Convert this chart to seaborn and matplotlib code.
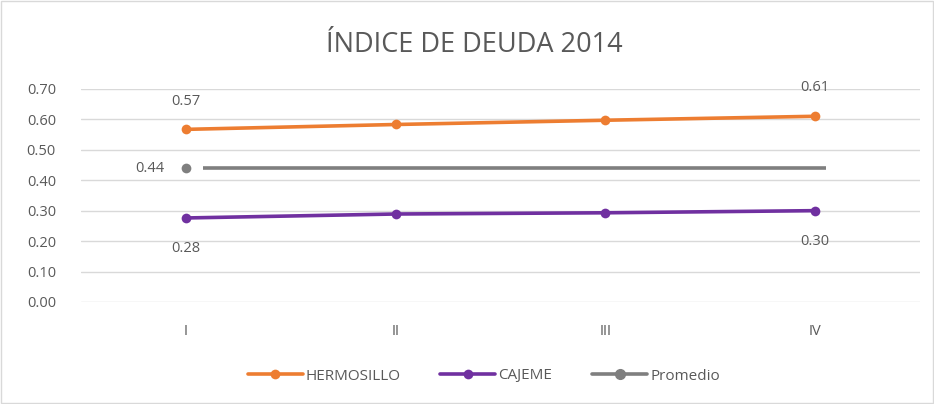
import matplotlib
matplotlib.use("Agg")
import matplotlib.pyplot as plt
import seaborn as sns
import pandas as pd
from matplotlib.patches import Rectangle

categories = ["I", "II", "III", "IV"]
hermosillo = [0.567, 0.583, 0.597, 0.610]
cajeme = [0.276, 0.289, 0.293, 0.300]
promedio = [0.44, 0.44, 0.44, 0.44]
yticks = [0.0, 0.1, 0.2, 0.3, 0.4, 0.5, 0.6, 0.7]
title = "ÍNDICE DE DEUDA 2014"

sns.set_theme(style="white")
plt.rcParams["font.family"] = ["Open Sans", "DejaVu Sans"]

fig = plt.figure(figsize=(9.34, 4.04), dpi=100)
ax = fig.add_axes([0.0867, 0.2525, 0.8983, 0.5275])

x = list(range(len(categories)))
df = pd.DataFrame({"x": x, "HERMOSILLO": hermosillo, "CAJEME": cajeme})

orange = "#ED7D31"
purple = "#7030A0"
gray = "#7F7F7F"
txt = "#595959"

sns.lineplot(x="x", y="HERMOSILLO", data=df, ax=ax, color=orange, lw=2.6,
             marker="o", markersize=7, markeredgewidth=0, label="HERMOSILLO")
sns.lineplot(x="x", y="CAJEME", data=df, ax=ax, color=purple, lw=2.6,
             marker="o", markersize=7, markeredgewidth=0, label="CAJEME")
# Promedio: marker at first category, line drawn across
ax.plot([x[0] + 0.08, x[-1] + 0.05], [promedio[0], promedio[-1]], color=gray, lw=2.6,
        solid_capstyle="butt")
ax.plot([x[0]], [promedio[0]], "o", color=gray, markersize=7, markeredgewidth=0)
ax.plot([], [], color=gray, lw=2.6, marker="o", markersize=7, label="Promedio")

fs = 10.5
# data labels
ax.annotate(f"{hermosillo[0]:.2f}", (x[0], hermosillo[0]), xytext=(0, 20),
            textcoords="offset points", ha="center", va="center", fontsize=fs, color=txt)
ax.annotate(f"{hermosillo[-1]:.2f}", (x[-1], hermosillo[-1]), xytext=(0, 21),
            textcoords="offset points", ha="center", va="center", fontsize=fs, color=txt)
ax.annotate(f"{cajeme[0]:.2f}", (x[0], cajeme[0]), xytext=(0, -22),
            textcoords="offset points", ha="center", va="center", fontsize=fs, color=txt)
ax.annotate(f"{cajeme[-1]:.2f}", (x[-1], cajeme[-1]), xytext=(0, -22),
            textcoords="offset points", ha="center", va="center", fontsize=fs, color=txt)
ax.annotate(f"{promedio[0]:.2f}", (x[0], promedio[0]), xytext=(-26, 0),
            textcoords="offset points", ha="center", va="center", fontsize=fs, color=txt)

ax.set_xlim(-0.5, len(categories) - 0.5)
ax.set_ylim(0, 0.7)
ax.set_yticks(yticks)
ax.set_yticklabels([f"{v:.2f}" for v in yticks], fontsize=fs, color=txt)
ax.set_xticks(x)
ax.set_xticklabels(categories, fontsize=fs, color=txt)
ax.tick_params(axis="x", length=0, pad=16)
ax.tick_params(axis="y", length=0, pad=18)
ax.grid(axis="y", color="#D9D9D9", lw=1)
ax.set_axisbelow(True)
for s in ax.spines.values():
    s.set_visible(False)
ax.set_xlabel("")
ax.set_ylabel("")

fig.text(0.508, 0.888, title, ha="center", va="center", fontsize=19.5, color=txt)

leg = ax.legend(loc="center", ncol=3, frameon=False, fontsize=11, handlelength=3.6,
                handletextpad=0.2, columnspacing=2.6, labelcolor=txt)
leg.set_bbox_to_anchor((0.518, 1 - 376 / 404), transform=fig.transFigure)

fig.patches.append(Rectangle((0.001, 0.002), 0.998, 0.996, transform=fig.transFigure,
                             fill=False, edgecolor="#D9D9D9", lw=1))

fig.savefig("out.png", dpi=100)
